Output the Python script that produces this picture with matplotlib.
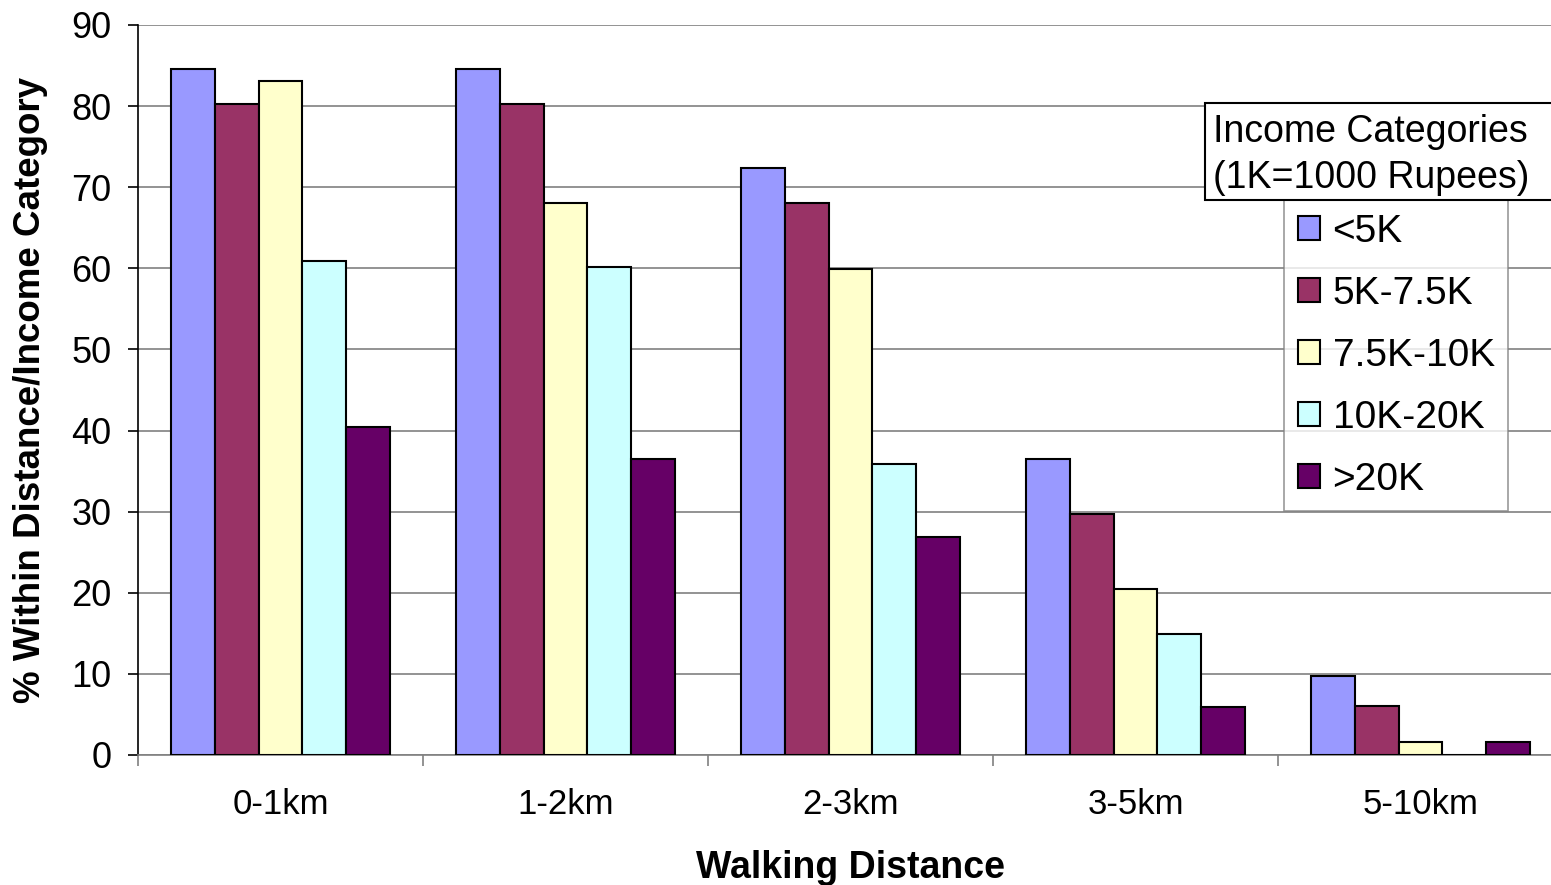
import numpy as np
import matplotlib.pyplot as plt
from matplotlib.patches import Rectangle

plt.rcParams['font.family'] = ['Liberation Sans', 'DejaVu Sans']

# data
distances = ["0-1km", "1-2km", "2-3km", "3-5km", "5-10km"]
income_groups = ["<5K", "5K-7.5K", "7.5K-10K", "10K-20K", ">20K"]
below_5k = [84.6, 84.6, 72.4, 36.5, 9.7]
k5_to_7_5 = [80.3, 80.3, 68.1, 29.7, 6.0]
k7_5_to_10 = [83.1, 68.1, 59.9, 20.5, 1.6]
k10_to_20 = [60.9, 60.2, 35.9, 14.9, 0.0]
above_20k = [40.4, 36.5, 26.9, 5.9, 1.6]
colors = ["#9999FF", "#993366", "#FFFFCC", "#CCFFFF", "#660066"]

series = [below_5k, k5_to_7_5, k7_5_to_10, k10_to_20, above_20k]

fig = plt.figure(figsize=(15.51, 8.85), dpi=100)
W, H = 1551, 885
ax = fig.add_axes([138 / W, 1 - 755 / H, (1563 - 138) / W, (755 - 25) / H])

x = np.arange(len(distances))
bw = 0.153
for i, (vals, c, lab) in enumerate(zip(series, colors, income_groups)):
    ax.bar(x + (i - 2) * bw, vals, bw, color=c, edgecolor="black", linewidth=1.5,
           label=lab, zorder=3)

ax.set_xlim(-0.5, 4.5)
ax.set_ylim(0, 90)
ax.set_yticks(range(0, 91, 10))
ax.yaxis.grid(True, color="#808080", linewidth=1.2, zorder=0)
ax.set_axisbelow(True)

for s in ["top", "right"]:
    ax.spines[s].set_visible(False)
ax.spines["left"].set_color("black")
ax.spines["left"].set_linewidth(1.2)
ax.spines["bottom"].set_color("#808080")
ax.spines["bottom"].set_linewidth(1.2)

ax.set_xticks(x)
ax.set_xticklabels(distances)
ax.set_xticks(np.arange(-0.5, 4.6, 1.0), minor=True)
ax.tick_params(axis="x", which="major", length=0, labelsize=25, pad=24)
ax.tick_params(axis="x", which="minor", length=8, width=1.2, color="#808080", direction="out")
ax.tick_params(axis="y", length=7, width=1.2, direction="out", labelsize=26, pad=12)

ax.set_xlabel("Walking Distance", fontsize=27, fontweight="bold")
ax.xaxis.set_label_coords(0.5, (755 - 850) / 730)
ax.set_ylabel("% Within Distance/Income Category", fontsize=26.5, fontweight="bold")
ax.yaxis.set_label_coords((48 - 138) / 1425, 0.5)

# legend title box (separate box above the legend)
fig.patches.append(Rectangle((1205 / W, 1 - 200 / H), 0.25, 97 / H, transform=fig.transFigure,
                             facecolor="white", edgecolor="black", linewidth=1.5, zorder=5))
fig.text(1213 / W, 1 - 132 / H, "Income Categories", fontsize=27, va="center", ha="left", zorder=6)
fig.text(1213 / W, 1 - 178 / H, "(1K=1000 Rupees)", fontsize=27, va="center", ha="left", zorder=6)

leg = ax.legend(loc="upper left", bbox_to_anchor=(1284 / W, 1 - 200 / H),
                bbox_transform=fig.transFigure, fontsize=28, frameon=True, fancybox=False,
                edgecolor="#808080", handlelength=0.57, handleheight=0.57, handletextpad=0.33,
                labelspacing=0.67, borderpad=0.35, borderaxespad=0)
leg.get_frame().set_linewidth(1.2)

fig.savefig("out.png", dpi=100)
